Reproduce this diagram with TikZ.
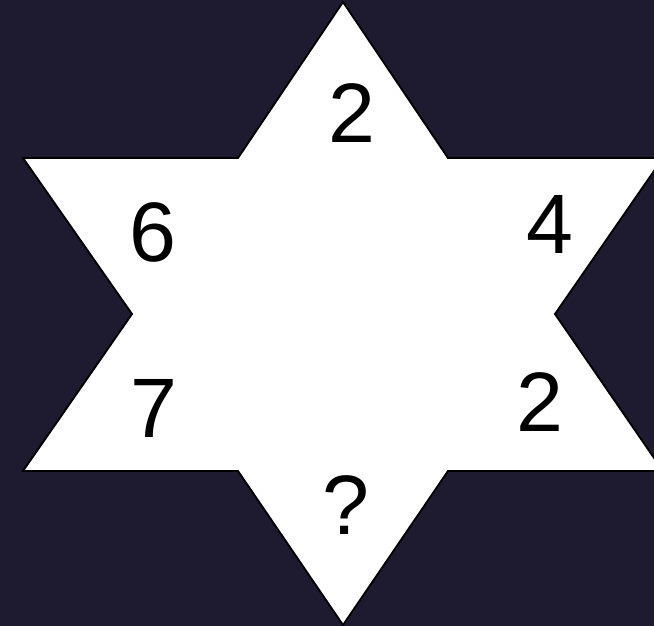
\documentclass[tikz,border=0pt]{standalone}
\usepackage{fontspec}
\setmainfont{Liberation Sans}
\usepackage{tikz}
\definecolor{nightbg}{RGB}{30,26,48}
\tikzset{
	star edge/.style={draw=black, line width=1.6pt, fill=white, line join=miter}, %the outline of the star
	number/.style={font=\fontsize{72}{74}\selectfont, text=black, inner sep=0pt}, %the numbers inside
}

\begin{document}
\begin{tikzpicture}[x=0.03cm, y=-0.03cm]
			\useasboundingbox (0,0) rectangle (654,626);
			\fill[nightbg] (0,0) rectangle (654,626);
			\begin{scope}
			\clip (0,0) rectangle (654,626);
			% the six pointed star
			\draw[star edge] (343,2) -- (448,158) -- (663,158) -- (555,314) -- (663,471) -- (448,471)
				-- (343,625) -- (238,471) -- (23,471) -- (132,314) -- (23,158) -- (238,158) -- cycle;
			\end{scope}
			\node (top)   at (352,113) [number] {2};
			\node (upl)   at (153,232) [number] {6};
			\node (upr)   at (550,224) [number] {4};
			\node (lowl)  at (154,408) [number] {7};
			\node (lowr)  at (540,402) [number] {2};
			\node (bot)   at (346,505) [number] {?};
		\end{tikzpicture}
\end{document}
